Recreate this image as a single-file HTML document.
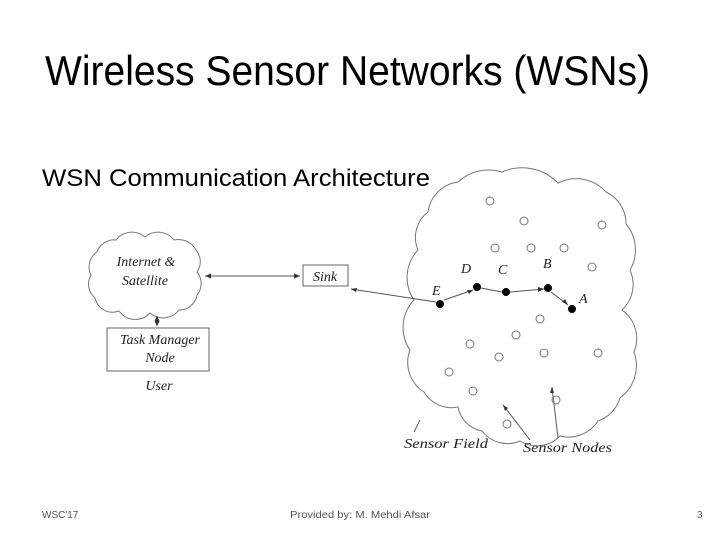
<!DOCTYPE html>
<html><head><style>body{margin:0;background:#fff}svg{display:block}</style></head><body>
<svg width="720" height="540" xmlns="http://www.w3.org/2000/svg">
<rect width="720" height="540" fill="#fff"/>
<text x="45" y="85" font-family="Liberation Sans, sans-serif" font-size="42" textLength="605" lengthAdjust="spacingAndGlyphs">Wireless Sensor Networks (WSNs)</text>
<text x="42" y="186" font-family="Liberation Sans, sans-serif" font-size="24" textLength="388" lengthAdjust="spacingAndGlyphs">WSN Communication Architecture</text>
<g fill="none" stroke="#777" stroke-width="1">
<path d="M428,212 A35,35 0 0 1 458,182 A45,45 0 0 1 502,172 A50,50 0 0 1 558,183 A40,40 0 0 1 606,192 A35,35 0 0 1 626,224 A40,40 0 0 1 630,270 A35,35 0 0 1 622,310 A35,35 0 0 1 634,352 A40,40 0 0 1 620,398 A35,35 0 0 1 598,421 A35,35 0 0 1 560,436 A32,32 0 0 1 520,441 A32,32 0 0 1 482,431 A30,30 0 0 1 458,407 A32,32 0 0 1 424,392 A35,35 0 0 1 410,350 A40,40 0 0 1 414,300 A40,40 0 0 1 418,250 A32,32 0 0 1 428,212 Z"/>
<path d="M97,252 A18,18 0 0 1 116,240 A20,20 0 0 1 145,237 A20,20 0 0 1 174,240 A20,20 0 0 1 196,250 A18,18 0 0 1 197,272 A18,18 0 0 1 197,295 A18,18 0 0 1 179,310 A20,20 0 0 1 150,313 A20,20 0 0 1 119,311 A18,18 0 0 1 95,298 A18,18 0 0 1 91,275 A18,18 0 0 1 97,252 Z"/>
</g>
<g fill="none" stroke="#555" stroke-width="1">
<rect x="107" y="328" width="102" height="43" stroke="#666"/>
<rect x="303" y="265" width="45" height="21" stroke="#666"/>
<line x1="205" y1="276" x2="300" y2="276"/>
<line x1="157" y1="316" x2="157" y2="326"/>
<line x1="351" y1="289" x2="436" y2="302"/>
<line x1="444" y1="300" x2="473" y2="290"/>
<line x1="481" y1="288" x2="502" y2="292"/>
<line x1="510" y1="292" x2="544" y2="289"/>
<line x1="551" y1="292" x2="568" y2="305"/>
<line x1="420" y1="420" x2="414" y2="432"/>
<line x1="503" y1="405" x2="530" y2="440"/>
<line x1="552" y1="387" x2="558" y2="438"/>
</g>
<g fill="#333">
<path d="M205,276 l6,-2.5 v5z M300,276 l-6,-2.5 v5z M157,316 l-2.5,5 h5z M157,326 l-2.5,-5 h5z M351,289 l6,-1 -1,4z M473,290 l-6,0 2,4z M544,289 l-6,-2 0,5z M568,305 l-3,-6 -3,3z M503,405 l2,6 3,-3z M552,387 l-2,6 4,0z"/>
</g>
<g fill="#000">
<circle cx="440" cy="304" r="4"/><circle cx="477" cy="287" r="4"/><circle cx="506" cy="292" r="4"/><circle cx="548" cy="288" r="4"/><circle cx="572" cy="309" r="4"/>
</g>
<g fill="none" stroke="#777" stroke-width="1">
<circle cx="490" cy="201" r="4"/><circle cx="524" cy="221" r="4"/><circle cx="602" cy="225" r="4"/><circle cx="495" cy="248" r="4"/><circle cx="531" cy="248" r="4"/><circle cx="564" cy="248" r="4"/><circle cx="592" cy="267" r="4"/><circle cx="540" cy="319" r="4"/><circle cx="516" cy="335" r="4"/><circle cx="470" cy="344" r="4"/><circle cx="499" cy="357" r="4"/><circle cx="544" cy="353" r="4"/><circle cx="598" cy="353" r="4"/><circle cx="449" cy="372" r="4"/><circle cx="473" cy="391" r="4"/><circle cx="556" cy="400" r="4"/><circle cx="507" cy="424" r="4"/>
</g>
<g font-family="Liberation Serif, serif" font-style="italic" font-size="14" fill="#222">
<text x="146" y="266" text-anchor="middle">Internet &amp;</text>
<text x="145" y="285" text-anchor="middle">Satellite</text>
<text x="160" y="344" text-anchor="middle">Task Manager</text>
<text x="160" y="362" text-anchor="middle">Node</text>
<text x="159" y="390" text-anchor="middle">User</text>
<text x="325" y="281" text-anchor="middle">Sink</text>
<text x="461" y="273">D</text><text x="498" y="274">C</text><text x="543" y="268">B</text><text x="579" y="303">A</text><text x="432" y="295">E</text>
<text x="404" y="448" textLength="84" lengthAdjust="spacingAndGlyphs">Sensor Field</text>
<text x="523" y="452" textLength="89" lengthAdjust="spacingAndGlyphs">Sensor Nodes</text>
</g>
<g font-family="Liberation Sans, sans-serif" font-size="10" fill="#555">
<text x="42" y="518">WSC'17</text>
<text x="290" y="518" textLength="140" lengthAdjust="spacingAndGlyphs">Provided by: M. Mehdi Afsar</text>
<text x="697" y="518">3</text>
</g>
</svg>
</body></html>
